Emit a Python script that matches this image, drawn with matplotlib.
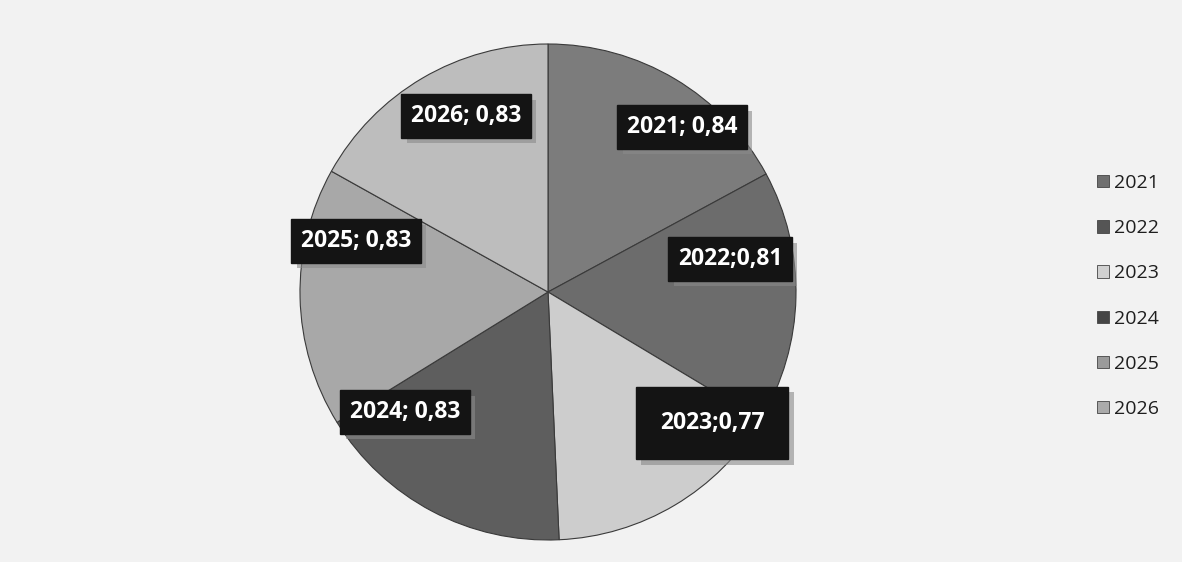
import matplotlib
matplotlib.use("Agg")
import matplotlib.pyplot as plt
import matplotlib.patheffects as pe

lata = ['2021', '2022', '2023', '2024', '2025', '2026']
wartosci = [0.84, 0.81, 0.77, 0.83, 0.83, 0.83]
etykiety = ['2021; 0,84', '2022;0,81', '2023;0,77', '2024; 0,83', '2025; 0,83', '2026; 0,83']

kolory = ['#7c7c7c', '#6c6c6c', '#cdcdcd', '#5e5e5e', '#a8a8a8', '#bdbdbd']

# pozycje etykiet (piksele, os y od dolu)
pozycje = [(682, 435), (730, 303), (712, 139), (405, 150), (356, 321), (466, 446)]
pady = [0.42, 0.42, 1.05, 0.42, 0.42, 0.42]

fig = plt.figure(figsize=(11.82, 5.62), dpi=100)
fig.patch.set_facecolor('#f2f2f2')
ax = fig.add_axes([0, 0, 1, 1])

kliny, _ = ax.pie(wartosci, colors=kolory, startangle=90, counterclock=False,
                  center=(548, 270), radius=248, frame=True,
                  wedgeprops=dict(edgecolor='#3a3a3a', linewidth=0.8))
ax.set_xlim(0, 1182)
ax.set_ylim(0, 562)
ax.axis('off')

for (x, y), tekst, p in zip(pozycje, etykiety, pady):
    t = ax.text(x, y, tekst, ha='center', va='center', fontsize=16.5,
                fontweight='bold', family='Open Sans', color='white',
                bbox=dict(boxstyle=f'square,pad={p}', facecolor='#141414',
                          edgecolor='#141414'))
    t.get_bbox_patch().set_path_effects([
        pe.withSimplePatchShadow(offset=(4, -4), shadow_rgbFace='#8a8a8a', alpha=0.6)
    ])

kolory_legendy = ['#6f6f6f', '#555555', '#d0d0d0', '#454545', '#9a9a9a', '#aaaaaa']
uchwyty = [plt.Rectangle((0, 0), 1, 1, facecolor=k, edgecolor='#444444', linewidth=0.6)
           for k in kolory_legendy]
leg = ax.legend(uchwyty, lata, loc='upper left', bbox_to_anchor=(1097 / 1182, 1 - 174 / 562),
                frameon=False, prop={'family': 'Open Sans', 'size': 14},
                handlelength=0.6, handleheight=0.6, handletextpad=0.25,
                labelspacing=1.4, borderaxespad=0, borderpad=0)
for txt in leg.get_texts():
    txt.set_color('#1e1e1e')

fig.savefig('out.png', dpi=100, facecolor=fig.get_facecolor())
